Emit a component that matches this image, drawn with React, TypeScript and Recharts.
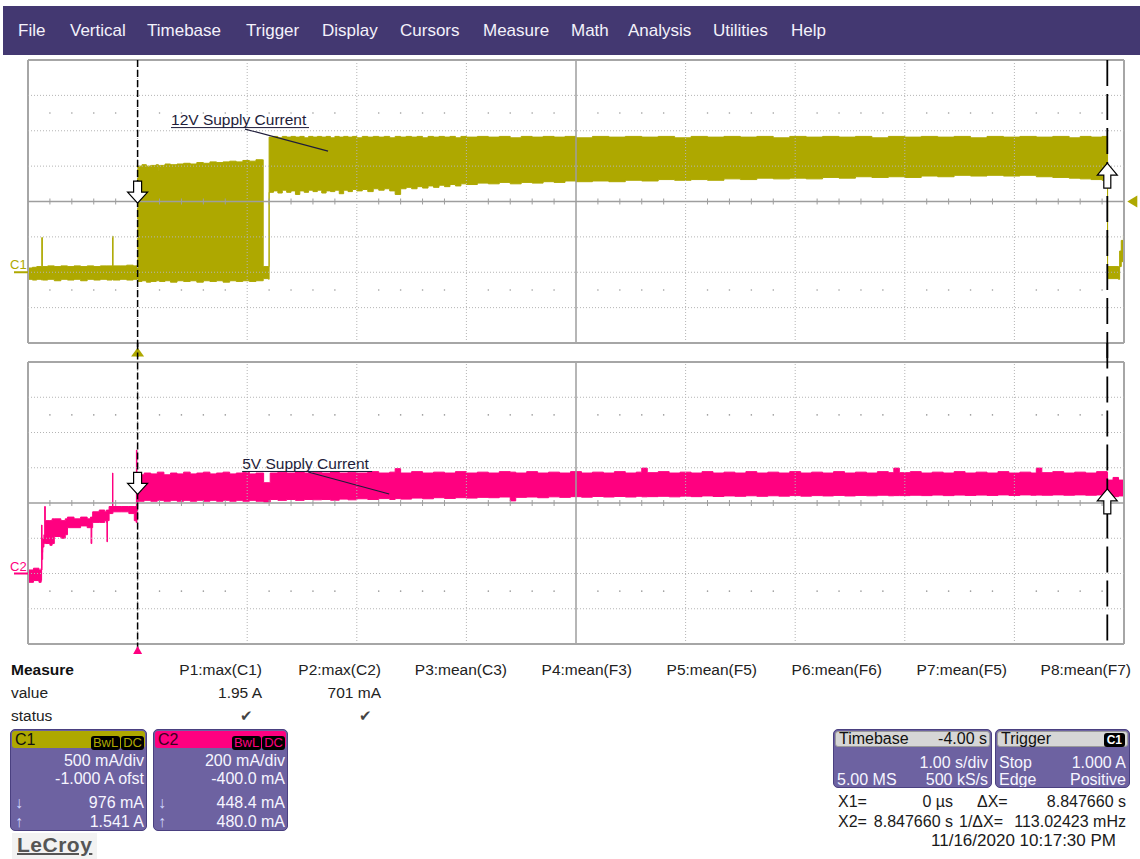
import React from 'react';
import { ComposedChart, Area, XAxis, YAxis, ReferenceLine, ReferenceDot } from 'recharts';

const FONT = 'Arial, "Liberation Sans", sans-serif';

// ---- timebase: 1.00 s/div, trigger (X1) one division from the left edge
const TIME_DIVS = [-1, 0, 1, 2, 3, 4, 5, 6, 7, 8, 9];
const CURSOR_X1 = 0;
const CURSOR_X2 = 8.84766;

// ---- C1: 500 mA/div, -1.000 A offset
const C1_DIVS = [-1, -0.5, 0, 0.5, 1, 1.5, 2, 2.5, 3];
const C1_CURSOR_LEVELS = [0.976, 1.541];
const C1_TRIGGER_LEVEL = 1.0;

// ---- C2: 200 mA/div, -400 mA offset
const C2_DIVS = [-0.4, -0.2, 0, 0.2, 0.4, 0.6, 0.8, 1.0, 1.2];
const C2_CURSOR_LEVELS = [0.4484, 0.48];

// trace envelopes: [time s, min A, max A]
type Env = [number, number, number];

const C1_TRACE: Env[] = [
  [-1.0, -0.1, 0.06], [-0.96, -0.11, 0.07], [-0.92, -0.1, 0.08], [-0.878, -0.11, 0.08],
  [-0.874, -0.1, 0.49], [-0.869, -0.11, 0.08], [-0.82, -0.1, 0.09], [-0.76, -0.12, 0.08],
  [-0.7, -0.1, 0.09], [-0.64, -0.11, 0.08], [-0.58, -0.1, 0.09], [-0.52, -0.12, 0.08],
  [-0.46, -0.1, 0.09], [-0.4, -0.11, 0.08], [-0.34, -0.1, 0.09], [-0.28, -0.11, 0.09],
  [-0.232, -0.1, 0.08], [-0.228, -0.1, 0.51], [-0.224, -0.11, 0.09], [-0.16, -0.1, 0.09],
  [-0.1, -0.11, 0.1], [-0.04, -0.1, 0.09], [-0.004, -0.1, 0.1],
  [0.0, -0.13, 1.5], [0.04, -0.12, 1.52], [0.08, -0.14, 1.5], [0.12, -0.13, 1.51],
  [0.17, -0.12, 1.52], [0.19, -0.12, 1.43], [0.2, -0.13, 1.51], [0.25, -0.12, 1.53],
  [0.3, -0.14, 1.52], [0.36, -0.12, 1.53], [0.42, -0.13, 1.54], [0.48, -0.12, 1.53],
  [0.54, -0.14, 1.55], [0.6, -0.12, 1.54], [0.66, -0.13, 1.56], [0.72, -0.12, 1.55],
  [0.78, -0.14, 1.56], [0.84, -0.12, 1.57], [0.9, -0.13, 1.56], [0.96, -0.12, 1.58],
  [1.02, -0.13, 1.57], [1.08, -0.12, 1.59], [1.14, -0.12, 1.59],
  [1.146, -0.09, 0.08], [1.196, -0.1, 0.08],
  [1.2, 1.13, 1.91], [1.24, 1.15, 1.92], [1.28, 1.12, 1.9], [1.32, 1.16, 1.92],
  [1.36, 1.13, 1.91], [1.4, 1.15, 1.92], [1.44, 1.1, 1.91], [1.48, 1.15, 1.92],
  [1.52, 1.13, 1.9], [1.56, 1.16, 1.92], [1.6, 1.14, 1.91], [1.64, 1.16, 1.92],
  [1.68, 1.12, 1.91], [1.72, 1.15, 1.92], [1.76, 1.14, 1.9], [1.8, 1.16, 1.92],
  [1.84, 1.11, 1.91], [1.88, 1.16, 1.92], [1.92, 1.14, 1.91], [1.96, 1.17, 1.92],
  [2.0, 1.15, 1.9], [2.05, 1.17, 1.92], [2.1, 1.14, 1.91], [2.15, 1.18, 1.92],
  [2.2, 1.16, 1.91], [2.25, 1.18, 1.92], [2.3, 1.15, 1.9], [2.35, 1.1, 1.92],
  [2.4, 1.18, 1.91], [2.45, 1.2, 1.92], [2.5, 1.18, 1.91], [2.55, 1.21, 1.92],
  [2.6, 1.19, 1.9], [2.65, 1.22, 1.92], [2.7, 1.2, 1.91], [2.75, 1.23, 1.92],
  [2.8, 1.21, 1.91], [2.85, 1.24, 1.92], [2.9, 1.22, 1.9], [2.95, 1.25, 1.92],
  [3.0, 1.24, 1.91], [3.1, 1.26, 1.92], [3.2, 1.25, 1.91], [3.3, 1.27, 1.92],
  [3.4, 1.25, 1.9], [3.5, 1.27, 1.92], [3.6, 1.26, 1.91], [3.7, 1.28, 1.92],
  [3.8, 1.27, 1.91], [3.9, 1.29, 1.92], [4.0, 1.28, 1.9], [4.15, 1.29, 1.92],
  [4.3, 1.28, 1.91], [4.45, 1.3, 1.92], [4.6, 1.29, 1.91], [4.75, 1.31, 1.92],
  [4.9, 1.3, 1.9], [5.05, 1.31, 1.92], [5.2, 1.3, 1.91], [5.35, 1.32, 1.92],
  [5.5, 1.31, 1.91], [5.65, 1.33, 1.92], [5.8, 1.32, 1.9], [5.95, 1.33, 1.92],
  [6.1, 1.32, 1.91], [6.25, 1.34, 1.92], [6.4, 1.33, 1.91], [6.55, 1.35, 1.92],
  [6.7, 1.34, 1.9], [6.85, 1.35, 1.92], [7.0, 1.34, 1.91], [7.15, 1.36, 1.92],
  [7.3, 1.35, 1.91], [7.45, 1.37, 1.92], [7.6, 1.36, 1.9], [7.75, 1.37, 1.92],
  [7.9, 1.36, 1.91], [8.05, 1.37, 1.92], [8.2, 1.35, 1.91], [8.35, 1.34, 1.92],
  [8.5, 1.33, 1.9], [8.6, 1.32, 1.92], [8.7, 1.31, 1.91], [8.8, 1.3, 1.92],
  [8.845, 1.3, 1.91],
  [8.85, -0.09, 0.08], [8.95, -0.1, 0.08], [8.96, 0.08, 0.3], [8.975, 0.15, 0.45],
  [8.995, 0.2, 0.53],
];

const C2_TRACE: Env[] = [
  [-1.0, -0.05, 0.02], [-0.95, -0.04, 0.03], [-0.9, -0.05, 0.02], [-0.88, -0.04, 0.03],
  [-0.876, 0.02, 0.275], [-0.872, 0.08, 0.12], [-0.866, 0.15, 0.2], [-0.855, 0.17, 0.22],
  [-0.848, 0.17, 0.38], [-0.842, 0.17, 0.3], [-0.8, 0.16, 0.3], [-0.78, 0.17, 0.31],
  [-0.76, 0.21, 0.31], [-0.7, 0.2, 0.3], [-0.66, 0.22, 0.31], [-0.64, 0.26, 0.32],
  [-0.58, 0.26, 0.31], [-0.52, 0.27, 0.32], [-0.46, 0.26, 0.31], [-0.43, 0.26, 0.32],
  [-0.425, 0.17, 0.32], [-0.418, 0.26, 0.32], [-0.41, 0.29, 0.35], [-0.35, 0.29, 0.36],
  [-0.3, 0.3, 0.35], [-0.285, 0.29, 0.36], [-0.28, 0.18, 0.36], [-0.275, 0.3, 0.36],
  [-0.26, 0.34, 0.38], [-0.233, 0.34, 0.38], [-0.229, 0.34, 0.57], [-0.225, 0.35, 0.38],
  [-0.15, 0.35, 0.38], [-0.08, 0.34, 0.38], [-0.03, 0.3, 0.38], [-0.014, 0.29, 0.38],
  [-0.011, 0.29, 0.7], [-0.006, 0.3, 0.38],
  [0.0, 0.41, 0.56], [0.06, 0.415, 0.57], [0.12, 0.41, 0.565], [0.18, 0.415, 0.575],
  [0.24, 0.41, 0.56], [0.3, 0.415, 0.57], [0.36, 0.41, 0.565], [0.42, 0.415, 0.575],
  [0.48, 0.41, 0.565], [0.54, 0.415, 0.57], [0.6, 0.41, 0.575], [0.66, 0.415, 0.565],
  [0.72, 0.41, 0.57], [0.78, 0.415, 0.575], [0.84, 0.41, 0.565], [0.9, 0.415, 0.57],
  [0.96, 0.41, 0.575], [1.02, 0.415, 0.565], [1.08, 0.41, 0.57],
  [1.145, 0.41, 0.57], [1.15, 0.405, 0.515], [1.2, 0.405, 0.515], [1.21, 0.42, 0.57],
  [1.28, 0.415, 0.575], [1.36, 0.42, 0.57], [1.44, 0.415, 0.578], [1.52, 0.42, 0.57],
  [1.6, 0.418, 0.575], [1.68, 0.42, 0.57], [1.76, 0.416, 0.578], [1.84, 0.422, 0.57],
  [1.92, 0.418, 0.575], [2.0, 0.424, 0.57], [2.1, 0.42, 0.578], [2.2, 0.425, 0.57],
  [2.3, 0.42, 0.575], [2.35, 0.425, 0.595], [2.4, 0.422, 0.57], [2.5, 0.428, 0.578],
  [2.6, 0.424, 0.57], [2.7, 0.43, 0.575], [2.8, 0.426, 0.57], [2.9, 0.43, 0.578],
  [3.0, 0.428, 0.57], [3.1, 0.432, 0.575], [3.2, 0.43, 0.57], [3.3, 0.434, 0.578],
  [3.4, 0.412, 0.575], [3.45, 0.432, 0.57], [3.55, 0.434, 0.578], [3.65, 0.43, 0.57],
  [3.75, 0.435, 0.575], [3.85, 0.432, 0.57], [3.95, 0.436, 0.578], [4.05, 0.433, 0.57],
  [4.15, 0.437, 0.575], [4.25, 0.434, 0.57], [4.35, 0.437, 0.578], [4.45, 0.434, 0.57],
  [4.55, 0.438, 0.575], [4.6, 0.435, 0.598], [4.65, 0.436, 0.572], [4.75, 0.438, 0.578],
  [4.85, 0.435, 0.57], [4.95, 0.439, 0.575], [5.05, 0.436, 0.57], [5.15, 0.44, 0.578],
  [5.25, 0.437, 0.57], [5.35, 0.44, 0.575], [5.45, 0.438, 0.57], [5.55, 0.441, 0.578],
  [5.65, 0.438, 0.57], [5.75, 0.441, 0.575], [5.85, 0.439, 0.57], [5.95, 0.442, 0.578],
  [6.05, 0.439, 0.57], [6.15, 0.442, 0.575], [6.25, 0.44, 0.57], [6.35, 0.443, 0.578],
  [6.45, 0.44, 0.57], [6.55, 0.443, 0.575], [6.65, 0.441, 0.57], [6.75, 0.444, 0.578],
  [6.85, 0.441, 0.572], [6.9, 0.442, 0.598], [6.95, 0.442, 0.572], [7.05, 0.444, 0.578],
  [7.15, 0.442, 0.57], [7.25, 0.445, 0.575], [7.35, 0.442, 0.57], [7.45, 0.445, 0.578],
  [7.55, 0.443, 0.57], [7.65, 0.445, 0.575], [7.75, 0.443, 0.57], [7.85, 0.446, 0.578],
  [7.95, 0.443, 0.57], [8.05, 0.446, 0.575], [8.15, 0.444, 0.57], [8.2, 0.445, 0.598],
  [8.25, 0.444, 0.572], [8.35, 0.446, 0.578], [8.45, 0.444, 0.57], [8.55, 0.446, 0.575],
  [8.65, 0.444, 0.57], [8.75, 0.446, 0.578], [8.845, 0.445, 0.575],
  [8.85, 0.44, 0.53], [8.9, 0.436, 0.545], [8.95, 0.44, 0.53], [8.995, 0.438, 0.532],
];

const MENU_ITEMS = ['File', 'Vertical', 'Timebase', 'Trigger', 'Display', 'Cursors', 'Measure', 'Math', 'Analysis', 'Utilities', 'Help'];
const MENU_X = [18, 70, 147, 246, 322, 400, 483, 571, 628, 713, 791];

const MEASURE_NAMES = ['P1:max(C1)', 'P2:max(C2)', 'P3:mean(C3)', 'P4:mean(F3)', 'P5:mean(F5)', 'P6:mean(F6)', 'P7:mean(F5)', 'P8:mean(F7)'];
const MEASURE_VALUES = ['1.95 A', '701 mA', '', '', '', '', '', ''];
const MEASURE_STATUS = ['\u2714', '\u2714', '', '', '', '', '', ''];
const MEASURE_RIGHT = [262, 381, 507, 632, 757, 882, 1007, 1131];

const C1_COLOR = '#aea800';
const C2_COLOR = '#ff0080';

const MINOR_T: number[] = [];
for (let i = 1; i < 50; i++) {
  if (i % 5 !== 0) MINOR_T.push(+(-1 + i * 0.2).toFixed(2));
}

const toRows = (env: Env[]) => env.map(([t, lo, hi]) => ({ t, band: [lo, hi] }));

// graticule: dotted divisions, solid centre lines, minor ticks and dot rows
function graticule(id: string, yDivs: number[], yCenter: number, px: number, dotRows: number[]) {
  const els: React.ReactNode[] = [];
  const last = yDivs.length - 1;
  TIME_DIVS.forEach((t, i) => {
    const edge = i === 0 || i === TIME_DIVS.length - 1;
    const mid = i === 5;
    els.push(
      <ReferenceLine key={`${id}v${i}`} x={t} stroke={edge ? '#a6a6a6' : mid ? '#9e9e9e' : '#b4b4b4'}
        strokeWidth={edge ? 2 : mid ? 1.5 : 1} strokeDasharray={edge || mid ? undefined : '1 2'} ifOverflow="visible" />
    );
  });
  yDivs.forEach((v, i) => {
    const edge = i === 0 || i === last;
    const mid = i === 4;
    els.push(
      <ReferenceLine key={`${id}h${i}`} y={v} stroke={edge ? '#a6a6a6' : mid ? '#9e9e9e' : '#b4b4b4'}
        strokeWidth={edge ? 2 : mid ? 1.5 : 1} strokeDasharray={edge || mid ? undefined : '1 2'} ifOverflow="visible" />
    );
  });
  MINOR_T.forEach((t, i) => {
    els.push(
      <ReferenceLine key={`${id}mt${i}`} segment={[{ x: t, y: yCenter - 3 * px }, { x: t, y: yCenter + 3 * px }]}
        stroke="#9e9e9e" strokeWidth={1} ifOverflow="visible" />
    );
    dotRows.forEach((r, j) => {
      els.push(
        <ReferenceDot key={`${id}d${i}_${j}`} x={t} y={r} r={0.8} fill="#9a9a9a" stroke="none" ifOverflow="visible" />
      );
    });
  });
  return els;
}

const downArrow = (p: any) => {
  const { cx, cy } = p;
  const d = `M${cx},${cy} L${cx - 10},${cy - 11} L${cx - 4},${cy - 11} L${cx - 4},${cy - 22} L${cx + 4},${cy - 22} L${cx + 4},${cy - 11} L${cx + 10},${cy - 11} Z`;
  return <path d={d} fill="#fff" stroke="#000" strokeWidth={1.2} />;
};

const upArrow = (p: any) => {
  const { cx, cy } = p;
  const d = `M${cx},${cy} L${cx - 10},${cy + 12} L${cx - 3.5},${cy + 12} L${cx - 3.5},${cy + 25} L${cx + 3.5},${cy + 25} L${cx + 3.5},${cy + 12} L${cx + 10},${cy + 12} Z`;
  return <path d={d} fill="#fff" stroke="#000" strokeWidth={1.2} />;
};

const upTriangle = (color: string, half: number, h: number) => (p: any) => {
  const { cx, cy } = p;
  return <path d={`M${cx},${cy} L${cx - half},${cy + h} L${cx + half},${cy + h} Z`} fill={color} />;
};

const leftTriangle = (color: string) => (p: any) => {
  const { cx, cy } = p;
  return <path d={`M${cx},${cy} L${cx + 10},${cy - 6} L${cx + 10},${cy + 6} Z`} fill={color} />;
};

const channelTag = (label: string, color: string) => (p: any) => {
  const { cx, cy } = p;
  return (
    <g>
      <text x={cx - 18} y={cy - 3} fill={color} fontFamily={FONT} fontSize={13}>{label}</text>
      <line x1={cx - 14} y1={cy} x2={cx} y2={cy} stroke={color} strokeWidth={2} />
    </g>
  );
};

const annotation = (label: string, width: number, leader: [number, number, number, number]) => (p: any) => {
  const { cx, cy } = p;
  return (
    <g>
      <text x={cx} y={cy} fill="#1e1c3a" fontFamily={FONT} fontSize={15.5}>{label}</text>
      <line x1={cx} y1={cy + 2.5} x2={cx + width} y2={cy + 2.5} stroke="#1e1c3a" strokeWidth={1} />
      <line x1={cx + leader[0]} y1={cy + leader[1]} x2={cx + leader[2]} y2={cy + leader[3]} stroke="#1e1c3a" strokeWidth={1.2} />
    </g>
  );
};

function UpperScope() {
  return (
    <div style={{ position: 'absolute', left: 0, top: 0 }}>
      <ComposedChart width={1140} height={360} data={toRows(C1_TRACE)} margin={{ top: 60, right: 16, bottom: 17, left: 28 }}>
        <XAxis type="number" dataKey="t" domain={[-1, 9]} hide allowDataOverflow />
        <YAxis type="number" domain={[-1, 3]} hide allowDataOverflow />
        {graticule('u', C1_DIVS, 1, 0.5 / 35.4, [2.25, -0.25])}
        <Area type="stepAfter" dataKey="band" stroke={C1_COLOR} strokeWidth={1} fill={C1_COLOR} fillOpacity={1} isAnimationActive={false} dot={false} activeDot={false} />
        <ReferenceLine segment={[{ x: CURSOR_X1, y: 3 }, { x: CURSOR_X1, y: -1.3 }]} stroke="#000" strokeWidth={1.5} strokeDasharray="7 3" ifOverflow="visible" />
        <ReferenceLine segment={[{ x: CURSOR_X2, y: 3 }, { x: CURSOR_X2, y: -1.3 }]} stroke="#000" strokeWidth={1.8} strokeDasharray="26 8" ifOverflow="visible" />
        <ReferenceDot x={CURSOR_X1} y={C1_CURSOR_LEVELS[0]} r={1} shape={downArrow} ifOverflow="visible" />
        <ReferenceDot x={CURSOR_X2} y={C1_CURSOR_LEVELS[1]} r={1} shape={upArrow} ifOverflow="visible" />
        <ReferenceDot x={CURSOR_X1} y={-1.065} r={1} shape={upTriangle(C1_COLOR, 6.5, 9)} ifOverflow="visible" />
        <ReferenceDot x={9.03} y={C1_TRIGGER_LEVEL} r={1} shape={leftTriangle(C1_COLOR)} ifOverflow="visible" />
        <ReferenceDot x={-1} y={0} r={1} shape={channelTag('C1', C1_COLOR)} ifOverflow="visible" />
        <ReferenceDot x={0.305} y={2.08} r={1} shape={annotation('12V Supply Current', 138, [74, 4, 157, 26])} ifOverflow="visible" />
      </ComposedChart>
    </div>
  );
}

function LowerScope() {
  return (
    <div style={{ position: 'absolute', left: 0, top: 343 }}>
      <ComposedChart width={1140} height={317} data={toRows(C2_TRACE)} margin={{ top: 19, right: 16, bottom: 16, left: 28 }}>
        <XAxis type="number" dataKey="t" domain={[-1, 9]} hide allowDataOverflow />
        <YAxis type="number" domain={[-0.4, 1.2]} hide allowDataOverflow />
        {graticule('l', C2_DIVS, 0.4, 0.2 / 35.25, [0.9, -0.1])}
        <Area type="stepAfter" dataKey="band" stroke={C2_COLOR} strokeWidth={1} fill={C2_COLOR} fillOpacity={1} isAnimationActive={false} dot={false} activeDot={false} />
        <ReferenceLine segment={[{ x: CURSOR_X1, y: 1.31 }, { x: CURSOR_X1, y: -0.44 }]} stroke="#000" strokeWidth={1.5} strokeDasharray="7 3" ifOverflow="visible" />
        <ReferenceLine segment={[{ x: CURSOR_X2, y: 1.31 }, { x: CURSOR_X2, y: -0.4 }]} stroke="#000" strokeWidth={1.8} strokeDasharray="26 8" ifOverflow="visible" />
        <ReferenceDot x={CURSOR_X1} y={C2_CURSOR_LEVELS[0]} r={1} shape={downArrow} ifOverflow="visible" />
        <ReferenceDot x={CURSOR_X2} y={C2_CURSOR_LEVELS[1]} r={1} shape={upArrow} ifOverflow="visible" />
        <ReferenceDot x={CURSOR_X1} y={-0.411} r={1} shape={upTriangle(C2_COLOR, 4.5, 8)} ifOverflow="visible" />
        <ReferenceDot x={-1} y={0} r={1} shape={channelTag('C2', C2_COLOR)} ifOverflow="visible" />
        <ReferenceDot x={0.954} y={0.593} r={1} shape={annotation('5V Supply Current', 130, [66, 3, 147, 25])} ifOverflow="visible" />
      </ComposedChart>
    </div>
  );
}

const abs = (s: React.CSSProperties): React.CSSProperties => ({ position: 'absolute', whiteSpace: 'nowrap', ...s });

function MenuBar() {
  return (
    <div style={abs({ left: 3, top: 6, width: 1137, height: 49, background: '#433871' })}>
      {MENU_ITEMS.map((m, i) => (
        <span key={m} style={abs({ left: MENU_X[i] - 3, top: 0, lineHeight: '50px', fontSize: 17, color: '#f4f2fb' })}>{m}</span>
      ))}
    </div>
  );
}

function MeasureTable() {
  const rowTop = [661, 684, 707];
  return (
    <div>
      <span style={abs({ left: 11, top: rowTop[0], lineHeight: '18px', fontSize: 15.5, fontWeight: 'bold', color: '#111' })}>Measure</span>
      <span style={abs({ left: 11, top: rowTop[1], lineHeight: '18px', fontSize: 15.5, color: '#222' })}>value</span>
      <span style={abs({ left: 11, top: rowTop[2], lineHeight: '18px', fontSize: 15.5, color: '#222' })}>status</span>
      {MEASURE_NAMES.map((n, i) => (
        <React.Fragment key={n + i}>
          <span style={abs({ right: 1140 - MEASURE_RIGHT[i], top: rowTop[0], lineHeight: '18px', fontSize: 15.5, color: '#222' })}>{n}</span>
          <span style={abs({ right: 1140 - MEASURE_RIGHT[i], top: rowTop[1], lineHeight: '18px', fontSize: 15.5, color: '#222' })}>{MEASURE_VALUES[i]}</span>
          <span style={abs({ right: 1140 - MEASURE_RIGHT[i] + 9, top: rowTop[2], lineHeight: '18px', fontSize: 15, color: '#444' })}>{MEASURE_STATUS[i]}</span>
        </React.Fragment>
      ))}
    </div>
  );
}

const BOX_BG = '#6d62a1';
const BOX_TEXT = '#f6f5ff';

function Badge({ text, color }: { text: string; color: string }) {
  return (
    <span style={{ display: 'inline-block', background: '#000', color, fontSize: 13, lineHeight: '14px', padding: '0 2px', borderRadius: 3, marginLeft: 1 }}>{text}</span>
  );
}

function ChannelBox({ left, width, name, color, nameColor, lines }: { left: number; width: number; name: string; color: string; nameColor: string; lines: string[] }) {
  const row = (top: number, text: string) => (
    <span style={abs({ right: 2, top, lineHeight: '18px', fontSize: 16, color: BOX_TEXT })}>{text}</span>
  );
  return (
    <div style={abs({ left, top: 729, width, height: 102, background: BOX_BG, borderRadius: 5, border: '1px solid #4a4080', boxSizing: 'border-box', overflow: 'hidden' })}>
      <div style={abs({ left: 1, top: 1, right: 1, height: 17, background: color, borderRadius: 3 })}>
        <span style={abs({ left: 3, top: 0, lineHeight: '17px', fontSize: 16, color: nameColor })}>{name}</span>
        <span style={abs({ right: 1, top: 1.5 })}>
          <Badge text="BwL" color={color} />
          <Badge text="DC" color={color} />
        </span>
      </div>
      {row(22, lines[0])}
      {row(40, lines[1])}
      <span style={abs({ left: 4, top: 64, lineHeight: '18px', fontSize: 16, color: '#cfd6ff' })}>{'\u2193'}</span>
      {row(64, lines[2])}
      <span style={abs({ left: 4, top: 83, lineHeight: '18px', fontSize: 16, color: '#cfd6ff' })}>{'\u2191'}</span>
      {row(83, lines[3])}
    </div>
  );
}

function InfoBox({ left, width, title, titleRight, rows }: { left: number; width: number; title: string; titleRight: React.ReactNode; rows: [string, string][] }) {
  return (
    <div style={abs({ left, top: 729, width, height: 59, background: BOX_BG, borderRadius: 5, border: '1px solid #4a4080', boxSizing: 'border-box', overflow: 'hidden' })}>
      <div style={abs({ left: 1, top: 1, right: 1, height: 16, background: '#d6d6d6', border: '1px solid #9a9a9a', borderRadius: 3, boxSizing: 'border-box' })}>
        <span style={abs({ left: 3, top: -1, lineHeight: '16px', fontSize: 16, color: '#111' })}>{title}</span>
        <span style={abs({ right: 2, top: -1, lineHeight: '16px', fontSize: 16, color: '#111' })}>{titleRight}</span>
      </div>
      {rows.map(([l, r], i) => (
        <React.Fragment key={i}>
          <span style={abs({ left: 3, top: 24 + i * 17, lineHeight: '18px', fontSize: 16, color: BOX_TEXT })}>{l}</span>
          <span style={abs({ right: 3, top: 24 + i * 17, lineHeight: '18px', fontSize: 16, color: BOX_TEXT })}>{r}</span>
        </React.Fragment>
      ))}
    </div>
  );
}

function Readouts() {
  const t = (style: React.CSSProperties, text: string) => (
    <span style={abs({ lineHeight: '18px', fontSize: 16, color: '#1a1a1a', ...style })}>{text}</span>
  );
  return (
    <div>
      {t({ left: 838, top: 793 }, 'X1=')}
      {t({ right: 1140 - 953, top: 793 }, '0 \u00b5s')}
      {t({ left: 977, top: 793 }, '\u0394X=')}
      {t({ right: 1140 - 1126, top: 793 }, '8.847660 s')}
      {t({ left: 838, top: 813 }, 'X2=')}
      {t({ right: 1140 - 953, top: 813 }, '8.847660 s')}
      {t({ left: 959, top: 813 }, '1/\u0394X=')}
      {t({ right: 1140 - 1126, top: 813 }, '113.02423 mHz')}
      {t({ right: 1140 - 1116, top: 832, fontSize: 17 }, '11/16/2020 10:17:30 PM')}
    </div>
  );
}

export default function App() {
  return (
    <div style={{ position: 'absolute', left: 0, top: 0, width: 1140, height: 859, background: '#fff', overflow: 'hidden', fontFamily: FONT }}>
      <MenuBar />
      <UpperScope />
      <LowerScope />
      <MeasureTable />
      <ChannelBox left={10} width={137} name="C1" color={C1_COLOR} nameColor="#111" lines={['500 mA/div', '-1.000 A ofst', '976 mA', '1.541 A']} />
      <ChannelBox left={153} width={135} name="C2" color={C2_COLOR} nameColor="#3a0020" lines={['200 mA/div', '-400.0 mA', '448.4 mA', '480.0 mA']} />
      <InfoBox left={833} width={159} title="Timebase" titleRight="-4.00 s" rows={[['', '1.00 s/div'], ['5.00 MS', '500 kS/s']]} />
      <InfoBox left={995} width={135} title="Trigger"
        titleRight={<span style={{ background: '#000', color: '#fff', fontSize: 12, fontWeight: 'bold', padding: '0 3px', borderRadius: 3 }}>C1</span>}
        rows={[['Stop', '1.000 A'], ['Edge', 'Positive']]} />
      <Readouts />
      <div style={abs({ left: 12, top: 833, width: 85, height: 26, background: '#f2f2f2' })}>
        <span style={abs({ left: 5, top: 0, lineHeight: '24px', fontSize: 21, fontWeight: 'bold', color: '#555', textDecoration: 'underline', textDecorationThickness: 2, letterSpacing: 0.5 })}>LeCroy</span>
      </div>
    </div>
  );
}
